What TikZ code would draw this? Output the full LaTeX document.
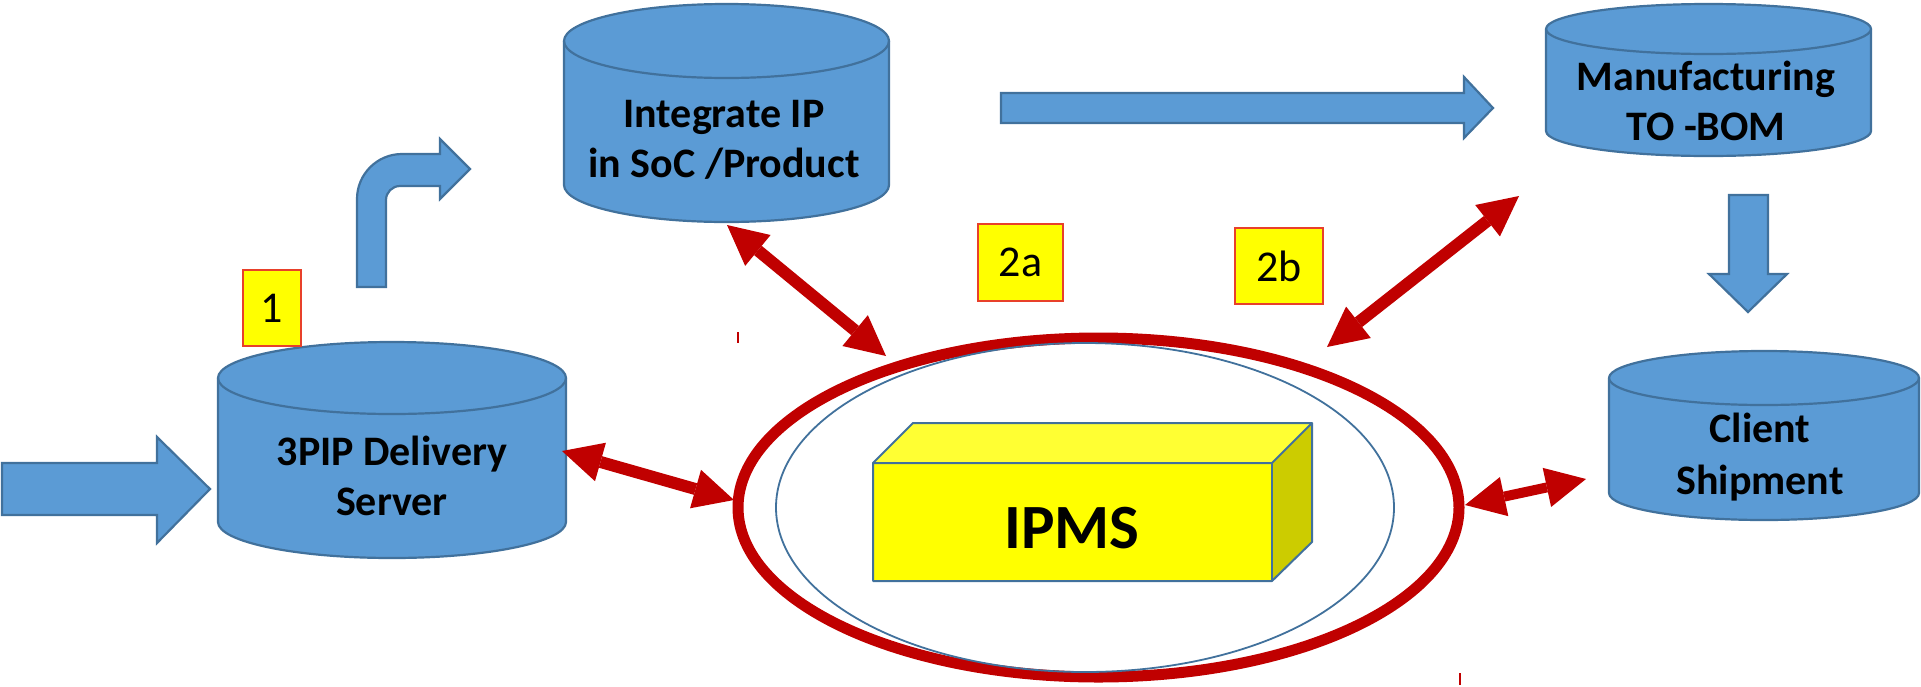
\documentclass[tikz,border=0pt]{standalone}
\usepackage{fontspec}
\setmainfont{Carlito}
\usetikzlibrary{arrows.meta,shapes.geometric,calc}
\definecolor{cylfill}{HTML}{5B9BD5}
\definecolor{cyledge}{HTML}{41719C}
\definecolor{ipmsred}{HTML}{C00000}
\definecolor{lblred}{HTML}{E8402A}
\definecolor{ipmsfront}{HTML}{FFFF00}
\definecolor{ipmstop}{HTML}{FFFF33}
\definecolor{ipmsside}{HTML}{CCCC00}
\tikzset{
  cylshape/.style={fill=cylfill, draw=cyledge, line width=2.2pt, line join=round},
  blockarrow/.style={fill=cylfill, draw=cyledge, line width=2.2pt, line join=miter},
  cyltext/.style={font=\bfseries\fontsize{42pt}{50pt}\selectfont, align=center, inner sep=0pt, text=black},
  lblbox/.style={fill=ipmsfront, draw=lblred, line width=1.5pt, inner sep=0pt, font=\fontsize{44pt}{50pt}\selectfont},
  redarrow/.style={draw=ipmsred, line width=12pt,
    {Triangle[length=40pt,width=40pt,line width=0pt]}-{Triangle[length=40pt,width=40pt,line width=0pt]}},
  cubeface/.style={draw=cyledge, line width=2pt, line join=round},
}
\newcommand\drawcyl[5]{%
  \pgfmathsetmacro\cylrx{(#2-#1)/2}%
  \filldraw[cylshape] (#1,#3+#5) -- (#1,#4-#5)
     arc[start angle=180,end angle=360,x radius=\cylrx pt,y radius=#5 pt]
     -- (#2,#3+#5)
     arc[start angle=0,end angle=180,x radius=\cylrx pt,y radius=#5 pt] -- cycle;
  \draw[cylshape,fill=none] (#1,#3+#5)
     arc[start angle=180,end angle=360,x radius=\cylrx pt,y radius=#5 pt];
}
\begin{document}
\begin{tikzpicture}[x=1pt,y=-1pt]
\useasboundingbox (0,0) rectangle (1921,686);

% cylinders
\drawcyl{218}{566}{342}{558}{36}
\drawcyl{564}{889}{4}{222}{37}
\drawcyl{1546}{1871}{4}{156}{25}
\drawcyl{1609}{1919}{351}{520}{27}

\node[cyltext] (deliv) at (392,476) {3PIP Delivery\\Server};
\node[cyltext] (soc) at (724,140) {Integrate IP\\in SoC /Product};
\node[cyltext] (mfg) at (1706,101) {Manufacturing\\TO -BOM};
\node[cyltext, font=\bfseries\fontsize{42pt}{52pt}\selectfont] (ship) at (1760,457) {Client\\Shipment};

% blue block arrows
\draw[blockarrow] (2,463) -- (157,463) -- (157,437) -- (210,489) -- (157,543) -- (157,515) -- (2,515) -- cycle;
\draw[blockarrow] (1001,93) -- (1464,93) -- (1464,77) -- (1493,108) -- (1464,138) -- (1464,123) -- (1001,123) -- cycle;
\draw[blockarrow] (1729,195) -- (1768,195) -- (1768,274) -- (1787,274) -- (1748,312) -- (1709,274) -- (1729,274) -- cycle;
\draw[blockarrow] (357,287) -- (357,199) arc[start angle=180,end angle=90,radius=45pt]
  -- (440,154) -- (440,139) -- (470,169) -- (440,199) -- (440,186) -- (400,186)
  arc[start angle=90,end angle=180,radius=14pt] -- (386,287) -- cycle;

% IPMS ring
\node[ellipse, draw=ipmsred, line width=11pt, minimum width=721pt, minimum height=339pt, inner sep=0pt] (ring) at (1098.5,507.5) {};
\node[ellipse, draw=cyledge, line width=1.8pt, minimum width=618pt, minimum height=329pt, inner sep=0pt] (innerring) at (1085,507.5) {};

% IPMS cube
\fill[ipmstop] (873,463) -- (913,423) -- (1312,423) -- (1272,463) -- cycle;
\fill[ipmsside] (1272,463) -- (1312,423) -- (1312,542) -- (1272,581) -- cycle;
\fill[ipmsfront] (873,463) rectangle (1272,581);
\draw[cubeface] (873,463) -- (913,423) -- (1312,423) -- (1312,542) -- (1272,581) -- (873,581) -- cycle;
\draw[cubeface] (873,463) -- (1272,463) -- (1312,423);
\draw[cubeface] (1272,463) -- (1272,581);
\node[font=\bfseries\fontsize{63pt}{70pt}\selectfont, inner sep=0pt] (ipms) at (1072,528) {IPMS};

% labels
\node[lblbox, minimum width=58pt, minimum height=76pt] (l1) at (272,308) {1};
\node[lblbox, minimum width=85pt, minimum height=77pt] (l2a) at (1020.5,262.5) {2a};
\node[lblbox, minimum width=88pt, minimum height=76pt] (l2b) at (1279,266) {2b};

% red double arrows
\coordinate (e1a) at (562,451);
\coordinate (e1b) at (734,500);
\coordinate (e2a) at (727,225);
\coordinate (e2b) at (886,356);
\coordinate (e3a) at (1519,196);
\coordinate (e3b) at (1327,347);
\coordinate (e4a) at (1465,505);
\coordinate (e4b) at (1586,479);
\draw[redarrow] (e1a) -- (e1b);
\draw[redarrow] (e2a) -- (e2b);
\draw[redarrow] (e3a) -- (e3b);
\draw[redarrow, line width=10pt] (e4a) -- (e4b);

% small red marks
\coordinate (t1a) at (738,332);
\coordinate (t1b) at (738,343);
\coordinate (t2a) at (1460,673);
\coordinate (t2b) at (1460,685);
\draw[ipmsred, line width=1.5pt] (t1a) -- (t1b);
\draw[ipmsred, line width=1.5pt] (t2a) -- (t2b);
\end{tikzpicture}
\end{document}
